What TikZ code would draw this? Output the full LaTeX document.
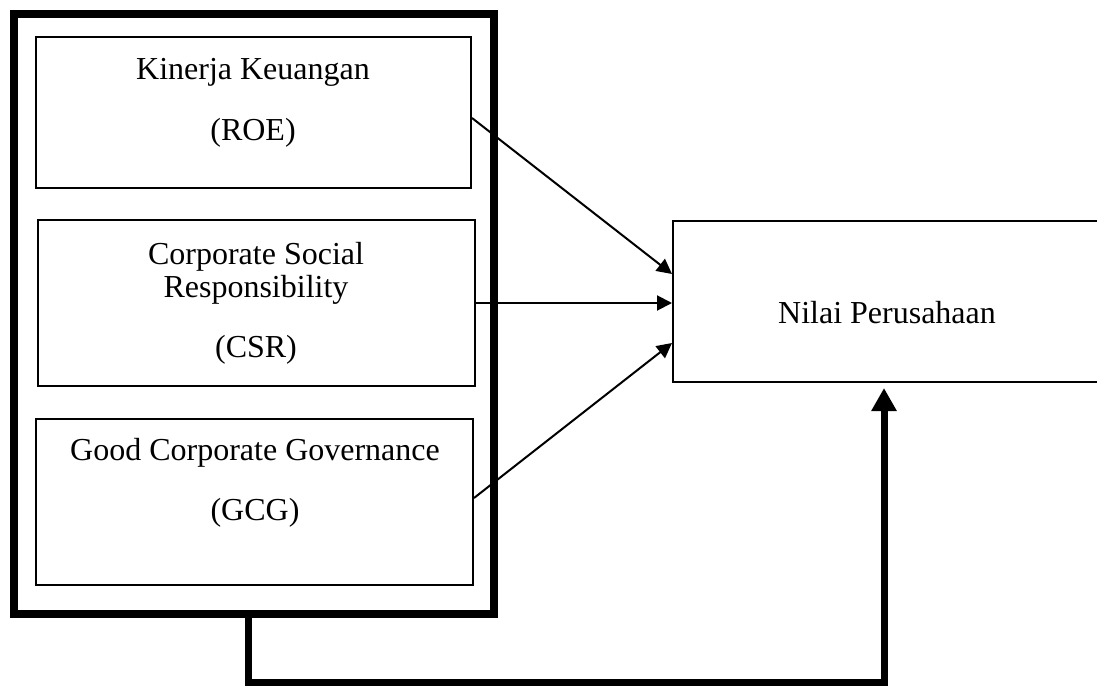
\documentclass[tikz,border=0pt]{standalone}
\usepackage{fontspec}
\setmainfont{Liberation Serif}
\usetikzlibrary{arrows.meta,calc}
\begin{document}
\begin{tikzpicture}[x=1pt,y=-1pt,
  box/.style={draw, line width=2pt, inner sep=0pt, rectangle},
  outerbox/.style={draw, line width=8pt, inner sep=0pt, rectangle},
  lbl/.style={font=\fontsize{32}{36}\selectfont, inner sep=0pt, anchor=base},
  thinarrow/.style={line width=2pt, -{Triangle[length=15pt,width=15pt]}},
  thickarrow/.style={line width=7pt, -{Triangle[length=23pt,width=24pt]}}]
\useasboundingbox (0,0) rectangle (1097,685);
% boxes
\node[outerbox, minimum width=480pt, minimum height=600pt] (outer) at (254,314) {};
\node[box, minimum width=435pt, minimum height=151pt] (roe) at (253.5,112.5) {};
\node[box, minimum width=437pt, minimum height=166pt] (csr) at (256.5,303) {};
\node[box, minimum width=437pt, minimum height=166pt] (gcg) at (254.5,502) {};
\node[box, minimum width=437pt, minimum height=161pt] (nilai) at (891.5,301.5) {};
% texts
\node[lbl] (t1) at (253,80) {Kinerja Keuangan};
\node[lbl] (t2) at (253,140) {(ROE)};
\node[lbl] (t3) at (256,264) {Corporate Social};
\node[lbl] (t4) at (256,297) {Responsibility};
\node[lbl] (t5) at (256,357) {(CSR)};
\node[lbl] (t6) at (255,460) {Good Corporate Governance};
\node[lbl] (t7) at (255,520) {(GCG)};
\node[lbl] (t8) at (887,323) {Nilai Perusahaan};
% arrows
\draw[thinarrow] ($(roe.east)+(0,5.5)$) -- ($(nilai.west)+(0,-27.5)$);
\draw[thinarrow] (csr.east) -- (csr.east -| nilai.west);
\draw[thinarrow] ($(gcg.east)+(0,-4)$) -- ($(nilai.west)+(0,41.5)$);
% bottom connector
\coordinate (c1) at (248,682);
\coordinate (c2) at (884,682);
\draw[thickarrow, shorten >=5pt] (outer.south -| c1) -- (c1) -- (c2) -- (c2 |- nilai.south);
\end{tikzpicture}
\end{document}
